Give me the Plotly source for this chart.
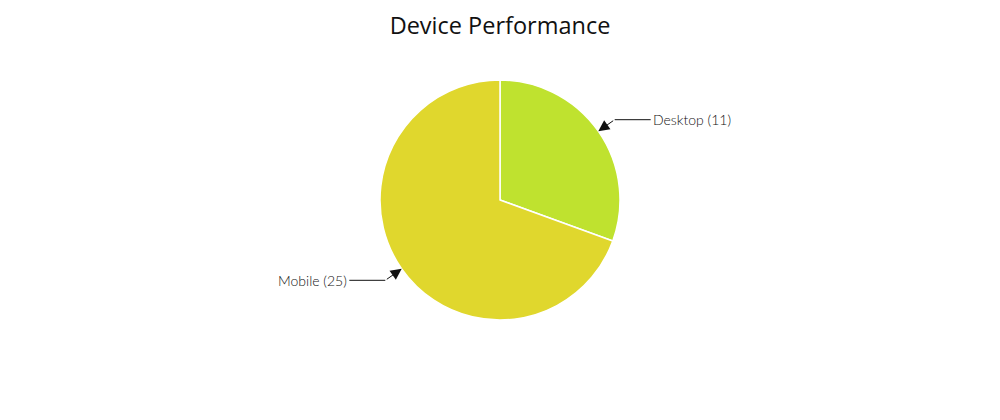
import math
import plotly.graph_objects as go

categories = ["Desktop", "Mobile"]
values = [11, 25]
colors = ["#BFE22F", "#E0D72D"]

W, H = 1000, 420
OFF = 8  # page body margin
cx_px, cy_px = 500 - OFF, 200 - OFF
R = 120
dom_top, dom_bot = cy_px - R, cy_px + R

fig = go.Figure(go.Pie(
    labels=categories, values=values, sort=False, direction="clockwise",
    rotation=0, textinfo="none", hoverinfo="label+value",
    marker=dict(colors=colors, line=dict(color="white", width=1.5)),
    domain=dict(x=[0, 2 * cx_px / W], y=[1 - dom_bot / H, 1 - dom_top / H]),
    showlegend=False,
))

total = sum(values)
cum = 0
annotations = []
shapes = []
for lab, v in zip(categories, values):
    mid = (cum + v / 2) / total * 2 * math.pi
    cum += v
    s, c = math.sin(mid), math.cos(mid)
    ex, ey = cx_px + R * s, cy_px - R * c
    bx, by = cx_px + (R + 20) * s, cy_px - (R + 20) * c
    right = s >= 0
    lx = bx + (36 if right else -36)
    annotations.append(dict(
        x=ex / W, y=1 - ey / H, xref="paper", yref="paper",
        ax=bx - ex, ay=by - ey, axref="pixel", ayref="pixel",
        text="", showarrow=True, arrowhead=2, arrowsize=2.2,
        arrowwidth=1, arrowcolor="#111",
    ))
    shapes.append(dict(
        type="line", xref="paper", yref="paper",
        x0=bx / W, y0=1 - by / H, x1=lx / W, y1=1 - by / H,
        line=dict(color="#111", width=1),
    ))
    annotations.append(dict(
        x=lx / W, y=1 - by / H, xref="paper", yref="paper",
        xanchor="left" if right else "right", yanchor="middle",
        text=f"{lab} ({v})", showarrow=False,
        font=dict(family="Lato", size=14, color="#111", weight=300),
    ))

fig.update_layout(
    width=W, height=H,
    margin=dict(l=0, r=0, t=0, b=0),
    paper_bgcolor="white", plot_bgcolor="white",
    title=dict(text="Device Performance", x=cx_px / W, xanchor="center",
               y=1 - 18 / H, yanchor="middle",
               font=dict(family="Open Sans", size=23.5, color="#111")),
    annotations=annotations, shapes=shapes,
)

fig.write_html("out.html")
